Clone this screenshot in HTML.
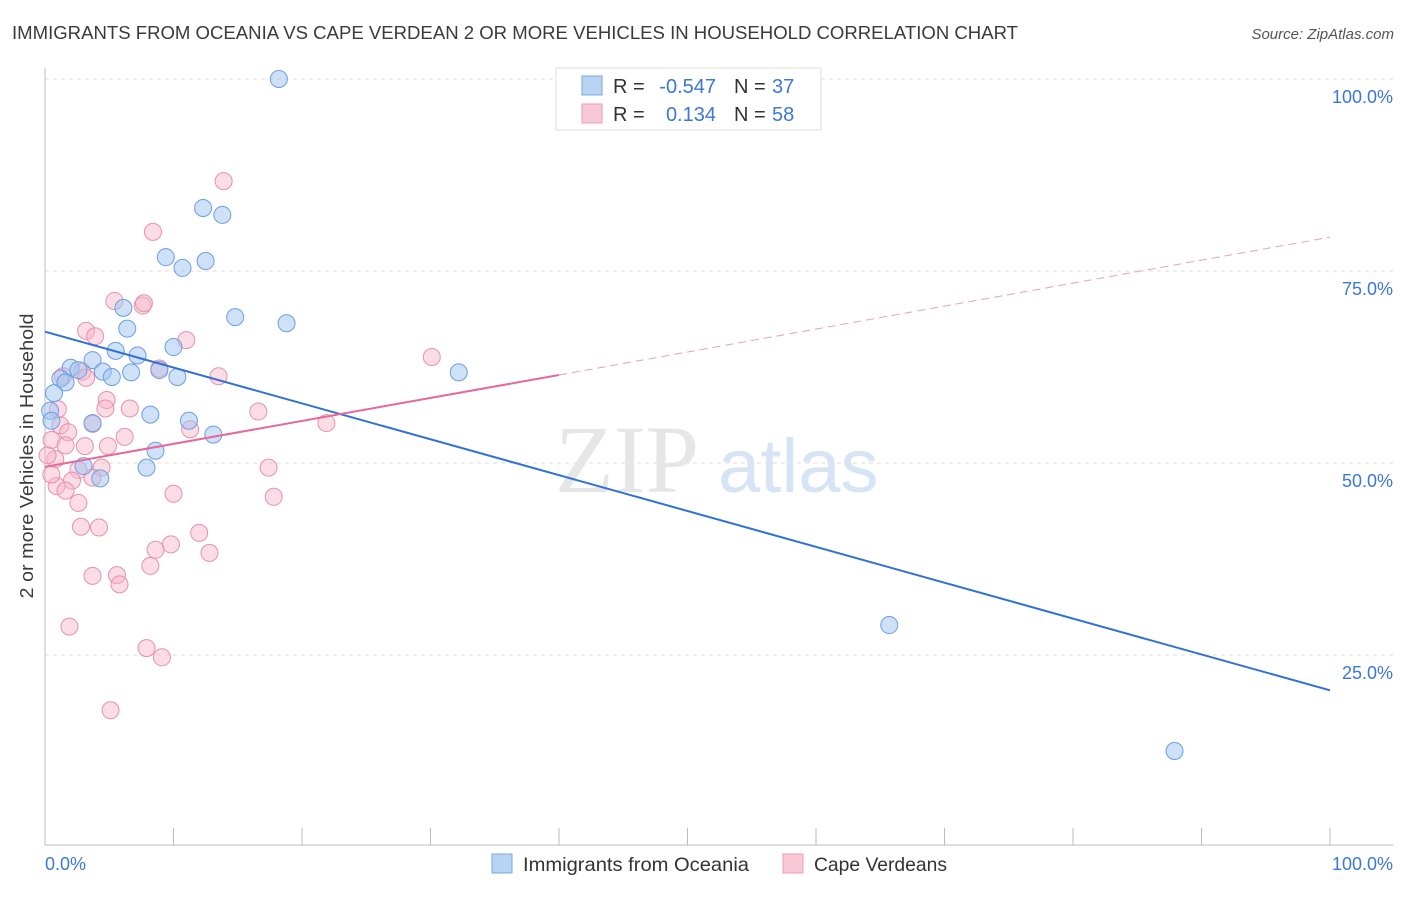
<!DOCTYPE html>
<html><head><meta charset="utf-8"><style>
body{margin:0;background:#fff;font-family:"Liberation Sans",sans-serif;}
</style></head><body>
<svg width="1406" height="892" xmlns="http://www.w3.org/2000/svg" font-family="Liberation Sans, sans-serif">
<text x="12" y="39" font-size="18.5" fill="#3a3a3a" textLength="1006" lengthAdjust="spacingAndGlyphs">IMMIGRANTS FROM OCEANIA VS CAPE VERDEAN 2 OR MORE VEHICLES IN HOUSEHOLD CORRELATION CHART</text>
<text x="1394" y="39" font-size="15" fill="#555" text-anchor="end" font-style="italic">Source: ZipAtlas.com</text>
<g id="grid"></g>
<text x="555" y="492" font-size="96" fill="#e6e6e6" font-family="Liberation Serif, serif">ZIP</text>
<text x="718" y="492" font-size="76" fill="#d6e4f5">atlas</text>
<g id="axes"></g>
<g id="pts"></g>
<g id="lines"></g>
<text transform="translate(33,456) rotate(-90)" text-anchor="middle" font-size="18" fill="#3a3a3a" textLength="285" lengthAdjust="spacingAndGlyphs">2 or more Vehicles in Household</text>
<text x="45" y="870" font-size="18" fill="#3b78d8">0.0%</text>
<text x="1393" y="870" font-size="18" fill="#3b78d8" text-anchor="end">100.0%</text>
<g font-size="20">
<rect x="556" y="68" width="265" height="62" fill="#fff" stroke="#ddd"/>
<rect x="582" y="76" width="20" height="19" fill="#b9d3f3" stroke="#7aa8e6"/>
<rect x="582" y="104" width="20" height="19" fill="#f9c8d6" stroke="#eb9ab4"/>
<text x="613" y="93" fill="#333">R =</text>
<text x="716" y="93" fill="#3b78d8" text-anchor="end">-0.547</text>
<text x="734" y="93" fill="#333">N =</text>
<text x="772" y="93" fill="#3b78d8">37</text>
<text x="613" y="121" fill="#333">R =</text>
<text x="716" y="121" fill="#3b78d8" text-anchor="end">0.134</text>
<text x="734" y="121" fill="#333">N =</text>
<text x="772" y="121" fill="#3b78d8">58</text>
</g>
<g font-size="19.5">
<rect x="492" y="854" width="20" height="19" fill="#b9d3f3" stroke="#7aa8e6"/>
<text x="523" y="871" fill="#333" textLength="226" lengthAdjust="spacingAndGlyphs">Immigrants from Oceania</text>
<rect x="783" y="854" width="20" height="19" fill="#f9c8d6" stroke="#eb9ab4"/>
<text x="814" y="871" fill="#333" textLength="133" lengthAdjust="spacingAndGlyphs">Cape Verdeans</text>
</g>
</svg>
<script>
const yTicks=[25,50,75,100];
const yTickLabels=["25.0%","50.0%","75.0%","100.0%"];
const blueX=[18.2,12.3,13.8,9.4,10.7,12.5,14.8,18.8,6.1,6.4,3.7,5.5,7.2,10.0,2.0,2.6,1.2,1.6,4.5,5.2,6.7,8.9,10.3,0.7,0.4,0.5,3.7,8.2,11.2,13.1,8.6,3.0,7.9,4.3,32.2,65.7,87.9];
const blueY=[100.0,83.2,82.3,76.8,75.4,76.3,69.0,68.2,70.2,67.5,63.4,64.6,64.0,65.1,62.4,62.1,61.0,60.5,61.9,61.2,61.8,62.1,61.2,59.1,56.8,55.5,55.2,56.3,55.5,53.7,51.6,49.6,49.4,48.0,61.8,28.9,12.5];
const pinkX=[13.9,8.4,5.4,7.6,3.2,3.9,11.0,2.9,1.4,3.2,8.9,13.5,30.1,1.0,4.8,4.7,6.6,16.6,21.9,3.7,1.2,1.8,6.2,0.5,3.1,4.9,1.6,11.3,0.8,2.6,4.4,17.4,2.1,0.9,3.7,0.5,1.6,2.6,10.0,17.8,4.2,2.8,12.0,9.8,8.6,12.8,8.2,3.7,5.6,5.8,1.9,7.9,9.1,5.1,0.2,7.7];
const pinkY=[86.7,80.1,71.1,70.5,67.2,66.5,66.0,61.9,61.3,61.1,62.3,61.3,63.8,57.0,58.2,57.1,57.1,56.7,55.2,55.1,54.9,54.0,53.4,53.0,52.2,52.2,52.3,54.4,50.5,49.1,49.4,49.4,47.7,47.0,48.1,48.5,46.4,44.8,46.0,45.6,41.6,41.7,40.9,39.4,38.7,38.3,36.6,35.3,35.4,34.2,28.7,25.9,24.7,17.8,51.0,70.8];
const blueTrend=[67.1,20.4];
const pinkTrend=[49.5,79.4];
const pinkSolidEnd=40;
const NS="http://www.w3.org/2000/svg";
const sx=v=>45+v*12.85, sy=v=>847-v*7.68;
function mk(t,a,p){const e=document.createElementNS(NS,t);for(const k in a)e.setAttribute(k,a[k]);p.appendChild(e);return e;}
const grid=document.getElementById('grid'),axes=document.getElementById('axes'),pts=document.getElementById('pts'),lines=document.getElementById('lines');
yTicks.forEach((t,i)=>{
 const g=mk('line',{x1:45,x2:1393,y1:sy(t),y2:sy(t),stroke:'#ddd','stroke-dasharray':'4,4'},grid);
 
 
 const l=mk('text',{x:1393,y:sy(t)+24,'font-size':18,fill:'#3b78d8','text-anchor':'end'},grid);
 l.textContent=yTickLabels[i];
 
 
});
const ax=mk('line',{x1:45,x2:45,y1:68,y2:845,stroke:'#bbb'},axes);


const bx=mk('line',{x1:45,x2:1393,y1:845,y2:845,stroke:'#bbb'},axes);


for(let i=0;i<=10;i++){
 const t=mk('line',{x1:sx(i*10),x2:sx(i*10),y1:828,y2:845,stroke:'#bbb'},axes);
 
 
}
function dots(X,Y,fill,stroke,name){X.forEach((x,i)=>{
 const c=mk('circle',{cx:sx(x),cy:sy(Y[i]),r:8.5,fill:fill,stroke:stroke,'stroke-width':1},pts);
 
 
});}
dots(pinkX,pinkY,'rgba(248,180,200,0.45)','#e890ac','cape-verdean-point');
dots(blueX,blueY,'rgba(160,196,240,0.5)','#6a9ee6','oceania-point');
const bl=mk('line',{x1:sx(0),y1:sy(blueTrend[0]),x2:sx(100),y2:sy(blueTrend[1]),stroke:'#2f72d6','stroke-width':2},lines);


const pm=pinkTrend[0]+(pinkTrend[1]-pinkTrend[0])*pinkSolidEnd/100;
const pl=mk('line',{x1:sx(0),y1:sy(pinkTrend[0]),x2:sx(pinkSolidEnd),y2:sy(pm),stroke:'#e8689a','stroke-width':2},lines);


const pd=mk('line',{x1:sx(pinkSolidEnd),y1:sy(pm),x2:sx(100),y2:sy(pinkTrend[1]),stroke:'#e8a0b8','stroke-width':1,'stroke-dasharray':'8,5'},lines);


</script>
</body></html>
